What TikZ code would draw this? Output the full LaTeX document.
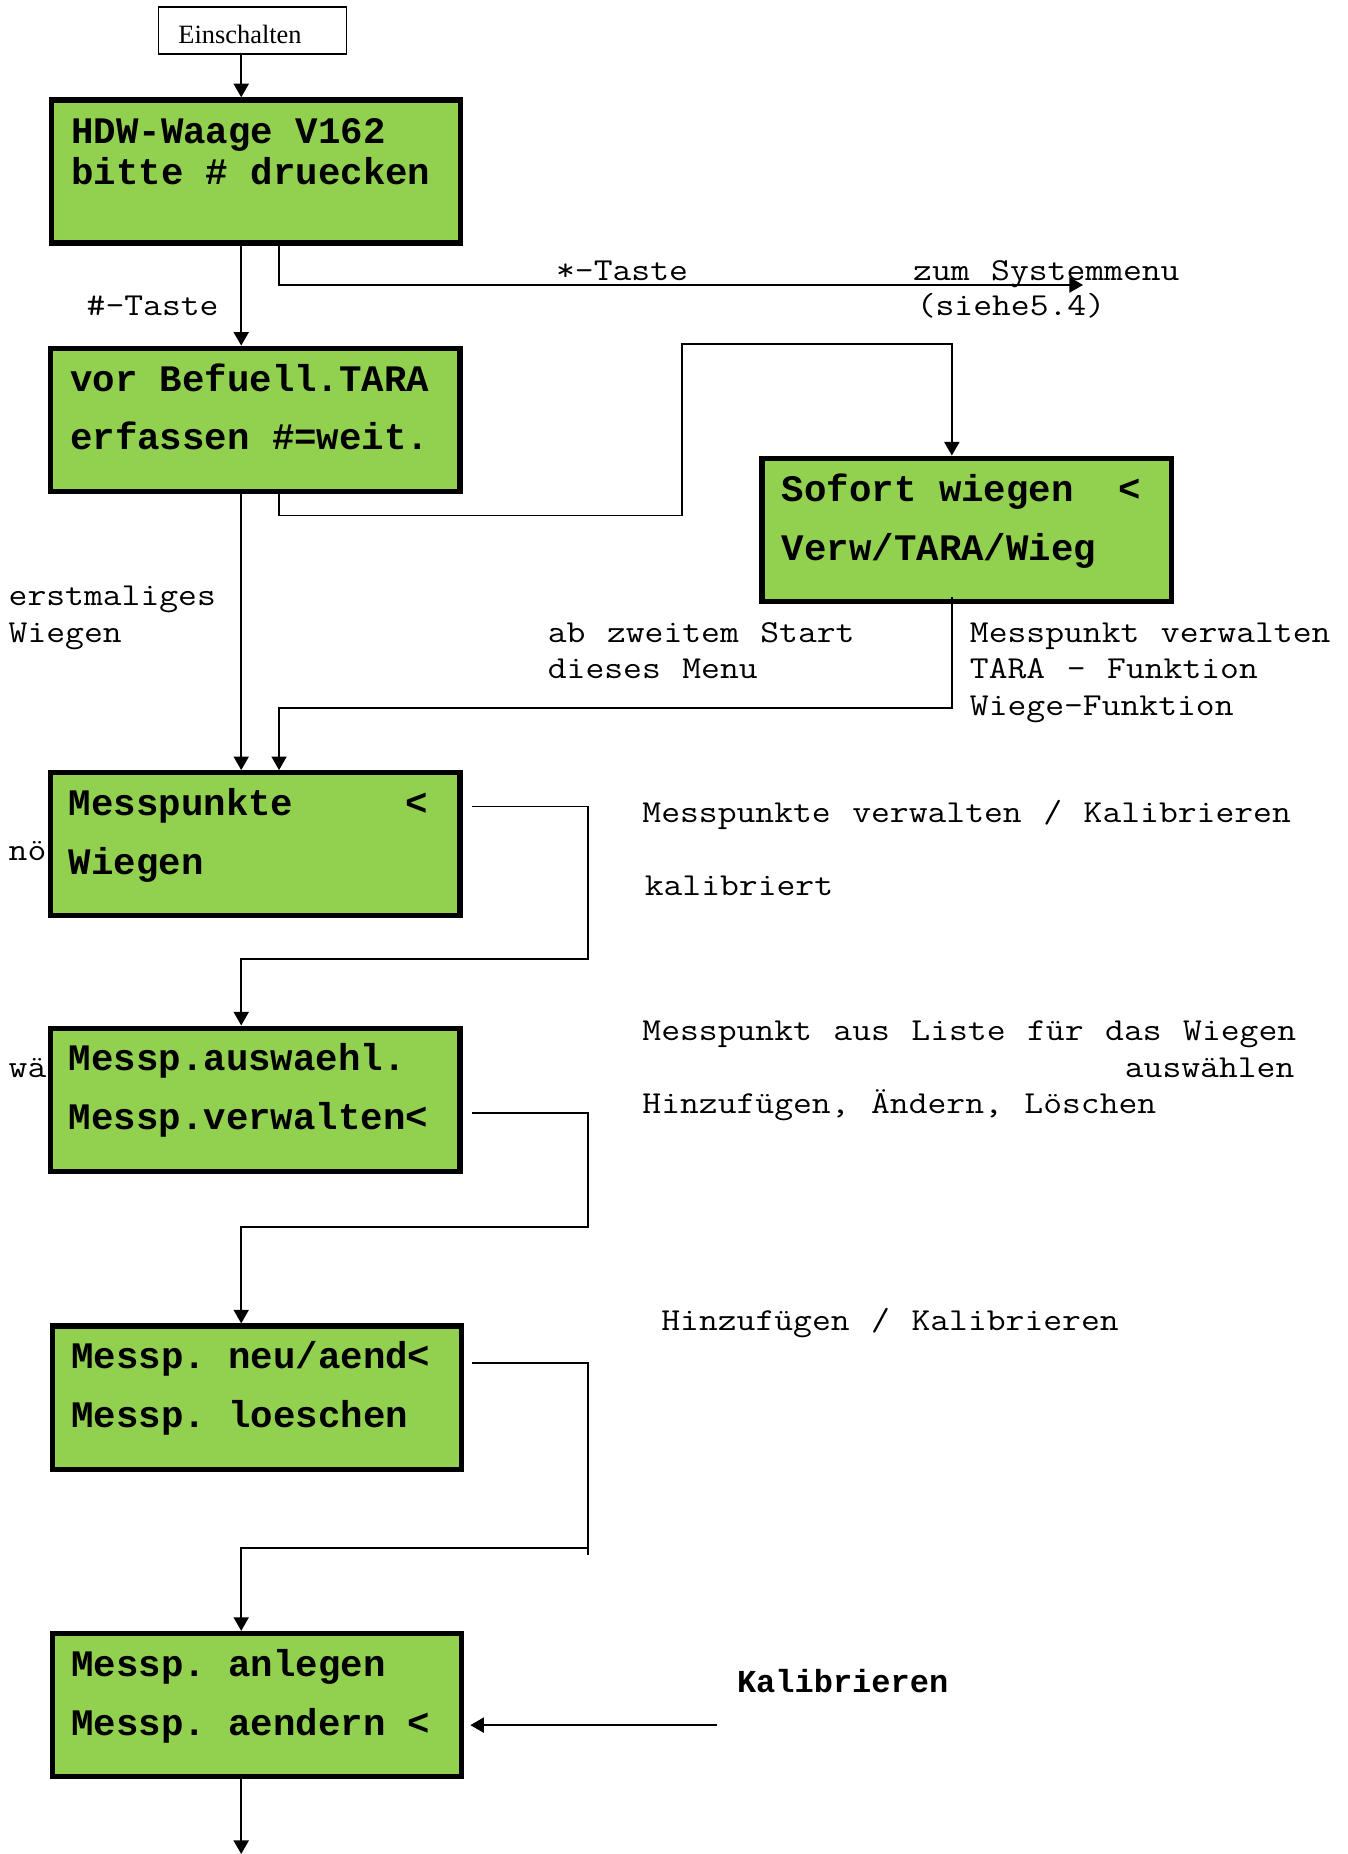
\documentclass[tikz,border=0pt]{standalone}
\usepackage{fontspec}
\setmainfont{Liberation Serif}
\setmonofont{Liberation Mono}
\newfontfamily\labelmono[FakeStretch=1.1429,WordSpace={1.1429,0,0}]{Latin Modern Mono}
\usetikzlibrary{arrows.meta,calc}

\definecolor{lcdgreen}{HTML}{92D050}
\def\u{0.59125pt}

\tikzset{
  lcd/.style={draw=black, line width=2.6pt, fill=lcdgreen, inner sep=0pt,
    minimum width=346*\u, minimum height=121*\u},
  lcdtext/.style={anchor=base west, inner sep=0pt,
    font=\fontsize{18.7}{20}\selectfont\ttfamily\bfseries},
  note/.style={anchor=base west, inner sep=0pt,
    font=\fontsize{16}{18}\selectfont\labelmono},
  notebold/.style={anchor=base west, inner sep=0pt,
    font=\fontsize{16}{18}\selectfont\ttfamily\bfseries},
  plainbox/.style={draw=black, line width=0.9pt, inner sep=0pt,
    minimum width=159*\u, minimum height=40*\u},
  conn/.style={draw=black, line width=1.1pt},
  thin/.style={draw=black, line width=0.9pt},
  arr/.style={-{Triangle[length=6.8pt,width=7.5pt]}},
}

\begin{document}
\begin{tikzpicture}[x=\u, y=-\u]
\useasboundingbox (0,0) rectangle (1140,1568);

% columns used by the vertical connectors
\coordinate (colA) at (204,0);
\coordinate (colB) at (236,0);

% side notes partly hidden behind the menu boxes
\node[note] (no) at (7,728) {nö};
\node[note] (wa) at (7,911) {wä};

% start box
\node[plainbox] (ein) at (213.5,26) {};
\node[inner sep=0pt, font=\fontsize{13.2}{15}\selectfont] (eint) at (203,29) {Einschalten};

% menu screens
\node[lcd] (hdw) at (216.5,145) {};
\node[lcdtext] (hdw1) at (60,121) {HDW-Waage V162};
\node[lcdtext] (hdw2) at (60,156) {bitte \# druecken};

\node[lcd] (tara) at (216,355) {};
\node[lcdtext] (tara1) at (59,331) {vor Befuell.TARA};
\node[lcdtext] (tara2) at (59,380) {erfassen \#=weit.};

\node[lcd] (sof) at (817.5,448) {};
\node[lcdtext] (sof1) at (661,424) {Sofort~wiegen~~<};
\node[lcdtext] (sof2) at (661,474) {Verw/TARA/Wieg};

\node[lcd] (mp) at (216,714) {};
\node[lcdtext] (mp1) at (58,690) {Messpunkte~~~~~<};
\node[lcdtext] (mp2) at (58,740) {Wiegen};

\node[lcd] (aus) at (216,930) {};
\node[lcdtext] (aus1) at (58,905) {Messp.auswaehl.};
\node[lcdtext] (aus2) at (58,955) {Messp.verwalten<};

\node[lcd] (neu) at (217.5,1182) {};
\node[lcdtext] (neu1) at (60,1157) {Messp.~neu/aend<};
\node[lcdtext] (neu2) at (60,1207) {Messp.~loeschen};

\node[lcd] (anl) at (217.5,1442) {};
\node[lcdtext] (anl1) at (60,1418) {Messp.~anlegen};
\node[lcdtext] (anl2) at (60,1468) {Messp.~aendern~<};

% labels
\node[note] (l1) at (73,267) {\#-Taste};
\node[note] (l2) at (470,237) {*-Taste};
\node[note] (l3) at (772,237) {zum Systemmenu};
\node[note] (l4) at (775,267) {(siehe5.4)};
\node[note] (l5) at (7,512) {erstmaliges};
\node[note] (l6) at (7,543) {Wiegen};
\node[note] (l7) at (463,543) {ab zweitem Start};
\node[note] (l8) at (463,574) {dieses Menu};
\node[note] (l9) at (820,543) {Messpunkt verwalten};
\node[note] (l10) at (820,574) {TARA - Funktion};
\node[note] (l11) at (820,605) {Wiege-Funktion};
\node[note] (l12) at (543,696) {Messpunkte verwalten / Kalibrieren};
\node[note] (l13) at (545,757) {kalibriert};
\node[note] (l14) at (543,880) {Messpunkt aus Liste für das Wiegen};
\node[note, anchor=base east] (l15) at (1095,911) {auswählen};
\node[note] (l16) at (543,942) {Hinzufügen, Ändern, Löschen};
\node[note] (l17) at (559,1125) {Hinzufügen / Kalibrieren};
\node[notebold] (l18) at (623,1431) {Kalibrieren};

% bend points and free ends
\coordinate (sysm) at (916,241);
\coordinate (k1) at (577,436);
\coordinate (k2) at (805,291);
\coordinate (k3) at (236,599);
\coordinate (r3) at (399,682);
\coordinate (k4) at (497,811);
\coordinate (r4) at (399,941);
\coordinate (k5) at (497,1038);
\coordinate (r5) at (399,1153);
\coordinate (k6) at (497,1315);
\coordinate (k6b) at (497,1309);
\coordinate (kal) at (606,1459);
\coordinate (endb) at (204,1568);

% connectors
\draw[conn, arr] (ein.south -| colA) -- (hdw.north -| colA);
\draw[conn, arr] (hdw.south -| colA) -- (tara.north -| colA);
\draw[conn, arr] (hdw.south -| colB) |- (sysm);
\draw[thin, arr] (tara.south -| colB) |- (k1) |- (k2) -- (sof.north -| k2);
\draw[thin, arr] ($(sof.south -| k2)+(0,-6)$) |- (k3) -- (mp.north -| k3);
\draw[conn, arr] (tara.south -| colA) -- (mp.north -| colA);
\draw[thin, arr] (r3) -| (k4) -| (aus.north -| colA);
\draw[thin, arr] (r4) -| (k5) -| (neu.north -| colA);
\draw[thin] (r5) -| (k6);
\draw[thin, arr] (k6b) -| (anl.north -| colA);
\draw[conn, arr, shorten >=3pt] (kal) -- (kal -| anl.east);
\draw[conn, arr] (anl.south -| colA) -- (endb);
\end{tikzpicture}
\end{document}
